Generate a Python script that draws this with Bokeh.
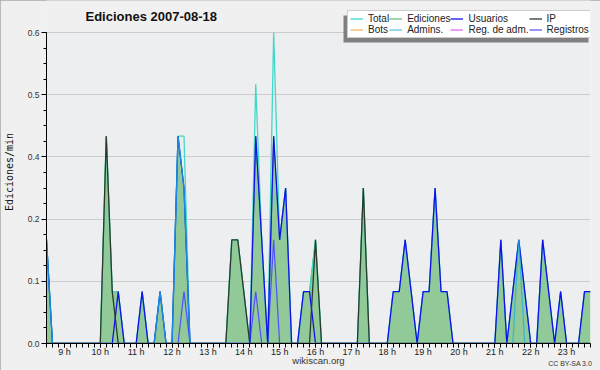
from bokeh.plotting import figure
from bokeh.models import (FixedTicker, Legend, LegendItem, Label, BoxAnnotation, LinearAxis,
                          PrintfTickFormatter, Range1d, ColumnDataSource)
from bokeh.embed import file_html
from bokeh.resources import INLINE

# ---- data: one value every 10 minutes, from 08:30 to 23:40 (edits per minute) ----
start_hour = 8.5
step_minutes = 10

ediciones = [0.2, 0, 0,
             0, 0, 0, 0, 0, 0,
             0, 0.4, 0.1, 0.1, 0, 0,
             0, 0.1, 0, 0, 0.1, 0,
             0, 0.4, 0.3, 0, 0, 0,
             0, 0, 0, 0, 0.2, 0.2,
             0.1, 0, 0.4, 0.2, 0, 0.4,
             0.2, 0.3, 0, 0, 0.1, 0.1,
             0.2, 0, 0, 0, 0, 0,
             0, 0, 0.3, 0, 0, 0,
             0, 0.1, 0.1, 0.2, 0.1, 0,
             0.1, 0.1, 0.3, 0.1, 0.1, 0,
             0, 0, 0, 0, 0, 0,
             0, 0.2, 0, 0.1, 0.2, 0.1,
             0, 0, 0.2, 0.1, 0, 0.1,
             0, 0, 0, 0.1, 0.1]

total = [0.2, 0, 0,
         0, 0, 0, 0, 0, 0,
         0, 0.4, 0.1, 0.1, 0, 0,
         0, 0.1, 0, 0, 0.1, 0,
         0, 0.4, 0.4, 0, 0, 0,
         0, 0, 0, 0, 0.2, 0.2,
         0.1, 0, 0.5, 0.2, 0, 0.6,
         0.2, 0.3, 0, 0, 0.1, 0.1,
         0.2, 0, 0, 0, 0, 0,
         0, 0, 0.3, 0, 0, 0,
         0, 0.1, 0.1, 0.2, 0.1, 0,
         0.1, 0.1, 0.3, 0.1, 0.1, 0,
         0, 0, 0, 0, 0, 0,
         0, 0.2, 0, 0.1, 0.2, 0.1,
         0, 0, 0.2, 0.1, 0, 0.1,
         0, 0, 0, 0.1, 0.1]

usuarios = [0.2, 0, 0,
            0, 0, 0, 0, 0, 0,
            0, 0, 0, 0.1, 0, 0,
            0, 0.1, 0, 0, 0.1, 0,
            0, 0.4, 0.3, 0, 0, 0,
            0, 0, 0, 0, 0, 0,
            0, 0, 0.4, 0.2, 0, 0.4,
            0.2, 0.3, 0, 0, 0.1, 0.1,
            0, 0, 0, 0, 0, 0,
            0, 0, 0, 0, 0, 0,
            0, 0.1, 0.1, 0.2, 0.1, 0,
            0.1, 0.1, 0.3, 0.1, 0.1, 0,
            0, 0, 0, 0, 0, 0,
            0, 0.2, 0, 0.1, 0.2, 0.1,
            0, 0, 0.2, 0.1, 0, 0.1,
            0, 0, 0, 0.1, 0.1]

ip = [0, 0, 0,
      0, 0, 0, 0, 0, 0,
      0, 0.4, 0.1, 0, 0, 0,
      0, 0, 0, 0, 0, 0,
      0, 0, 0, 0, 0, 0,
      0, 0, 0, 0, 0.2, 0.2,
      0.1, 0, 0, 0, 0, 0,
      0, 0, 0, 0, 0, 0,
      0.2, 0, 0, 0, 0, 0,
      0, 0, 0.3, 0, 0, 0,
      0, 0, 0, 0, 0, 0,
      0, 0, 0, 0, 0, 0,
      0, 0, 0, 0, 0, 0,
      0, 0, 0, 0, 0, 0,
      0, 0, 0, 0, 0, 0,
      0, 0, 0, 0, 0]

admins = [0.2, 0, 0,
          0, 0, 0, 0, 0, 0,
          0, 0, 0, 0, 0, 0,
          0, 0, 0, 0, 0.1, 0,
          0, 0.4, 0.3, 0, 0, 0,
          0, 0, 0, 0, 0, 0,
          0, 0, 0, 0, 0, 0,
          0, 0, 0, 0, 0, 0,
          0, 0, 0, 0, 0, 0,
          0, 0, 0, 0, 0, 0,
          0, 0, 0, 0, 0, 0,
          0, 0, 0, 0, 0, 0,
          0, 0, 0, 0, 0, 0,
          0, 0, 0, 0, 0.2, 0,
          0, 0, 0, 0, 0, 0,
          0, 0, 0, 0, 0]

registros = [0, 0, 0,
             0, 0, 0, 0, 0, 0,
             0, 0, 0, 0, 0, 0,
             0, 0, 0, 0, 0, 0,
             0, 0, 0.1, 0, 0, 0,
             0, 0, 0, 0, 0, 0,
             0, 0, 0.1, 0, 0, 0.2,
             0, 0, 0, 0, 0, 0,
             0, 0, 0, 0, 0, 0,
             0, 0, 0, 0, 0, 0,
             0, 0, 0, 0, 0, 0,
             0, 0, 0, 0, 0, 0,
             0, 0, 0, 0, 0, 0,
             0, 0, 0, 0, 0, 0,
             0, 0, 0, 0, 0, 0,
             0, 0, 0, 0, 0]

bots = [0.0] * len(total)
reg_adm = [0.0] * len(total)

hour_ticks = [9, 10, 11, 12, 13, 14, 15, 16, 17, 18, 19, 20, 21, 22, 23]
hour_labels = ["9 h", "10 h", "11 h", "12 h", "13 h", "14 h", "15 h", "16 h",
               "17 h", "18 h", "19 h", "20 h", "21 h", "22 h", "23 h"]
y_ticks = [0.0, 0.12, 0.24, 0.36, 0.48, 0.6]
y_max = 0.6

legend_names = ["Total", "Ediciones", "Usuarios", "IP",
                "Bots", "Admins.", "Reg. de adm.", "Registros"]
title_text = "Ediciones  2007-08-18"
source_text = "wikiscan.org"
license_text = "CC BY-SA 3.0"
y_label = "Ediciones/min"

# ---- layout constants (pixels) ----
W, H = 600, 370
LEFT, RIGHT, BOTTOM = 46, 10, 27
FRAME_H = H - BOTTOM            # frame reaches the top of the canvas
PLOT_H = 311                    # height of the 0..0.6 band
OUTER = "#f0f0f0"
INNER = "#edeef0"

# ---- build ----
n = len(total)
hours = [start_hour + i * step_minutes / 60.0 for i in range(n)]
src = ColumnDataSource(dict(t=hours, total=total, ediciones=ediciones, usuarios=usuarios,
                            ip=ip, bots=bots, admins=admins, reg_adm=reg_adm,
                            registros=registros))

p = figure(width=W, height=H, output_backend="svg", toolbar_location=None, title=None,
           x_range=Range1d(hours[0], hours[-1]),
           y_range=Range1d(0, y_max * FRAME_H / PLOT_H),
           min_border_left=LEFT, min_border_right=RIGHT, min_border_top=0,
           min_border_bottom=BOTTOM,
           background_fill_color=INNER, border_fill_color=OUTER,
           outline_line_color=None)
p.styles = {"outline": "1px solid #a8a8a8", "outline-offset": "-1px"}

# axes
xa = p.xaxis[0]
xa.ticker = FixedTicker(ticks=hour_ticks,
                        minor_ticks=[start_hour + k * step_minutes / 60.0 for k in range(n)])
xa.major_label_overrides = {h: lab for h, lab in zip(hour_ticks, hour_labels)}
xa.axis_label = source_text
xa.axis_label_text_font = "Liberation Sans"
xa.axis_label_text_font_size = "9.5px"
xa.axis_label_text_font_style = "normal"
xa.axis_label_text_color = "#333333"
xa.axis_label_standoff = -5
xa.major_label_text_font = "Liberation Sans"
xa.major_label_text_font_size = "9px"
xa.major_label_text_color = "#222222"
xa.major_label_standoff = -1
xa.major_tick_out = 4
xa.major_tick_in = 0
xa.minor_tick_out = 4
xa.minor_tick_in = 0
xa.axis_line_color = "black"
xa.major_tick_line_color = "black"
xa.minor_tick_line_color = "black"

# second, invisible axis carrying the licence note on the same row as the axis label
cc_pos = 23.1
xa2 = LinearAxis(ticker=FixedTicker(ticks=[cc_pos]),
                 major_label_overrides={cc_pos: license_text},
                 axis_line_color=None, major_tick_line_color=None,
                 minor_tick_line_color=None, major_tick_out=0, minor_tick_out=0,
                 major_label_standoff=-9,
                 major_label_text_font="Liberation Sans",
                 major_label_text_font_size="7px",
                 major_label_text_color="#333333")
p.add_layout(xa2, "below")

ya = p.yaxis[0]
ya.bounds = (0, y_max)
ya.ticker = FixedTicker(ticks=y_ticks, minor_ticks=[k * 0.03 for k in range(21)])
ya.formatter = PrintfTickFormatter(format="%.1f")
ya.axis_label = y_label
ya.axis_label_text_font = "DejaVu Sans Mono"
ya.axis_label_text_font_size = "10px"
ya.axis_label_text_font_style = "normal"
ya.axis_label_text_color = "#111111"
ya.axis_label_standoff = 10
ya.major_label_text_font = "Liberation Sans"
ya.major_label_text_font_size = "8.5px"
ya.major_label_text_color = "#333333"
ya.major_label_standoff = 2
ya.major_tick_out = 5
ya.major_tick_in = 0
ya.minor_tick_out = 3
ya.minor_tick_in = 0
ya.axis_line_color = "black"

p.xgrid.grid_line_color = None
p.ygrid.grid_line_color = "#cccccc"
p.ygrid.grid_line_width = 1

# area above the 0..0.6 band gets the outer colour
top_band = BoxAnnotation(bottom=PLOT_H + 0.5, bottom_units="screen",
                         fill_color=OUTER, fill_alpha=1.0, line_color=None, level="underlay")
p.add_layout(top_band)

# series
p.varea(x="t", y1=0, y2="ediciones", source=src, fill_color="#92c998", fill_alpha=1.0)
r_bots = p.line("t", "bots", source=src, line_color="#f0a030", line_width=1)
r_regadm = p.line("t", "reg_adm", source=src, line_color="#cc44dd", line_width=1)
r_ed = p.line("t", "ediciones", source=src, line_color="#44aa55", line_width=1)
r_total = p.line("t", "total", source=src, line_color="#40d8c8", line_width=1.3)
r_reg = p.line("t", "registros", source=src, line_color="#5050ff", line_width=1.2)
r_usu = p.line("t", "usuarios", source=src, line_color="#1010e8", line_width=1.3)
r_adm = p.line("t", "admins", source=src, line_color="#20b0e0", line_width=1.3, line_alpha=0.75)
r_ip = p.line("t", "ip", source=src, line_color="#2a3a2a", line_width=1.3)

# title
p.add_layout(Label(x=85 - LEFT, y=FRAME_H - 16, x_units="screen", y_units="screen",
                   text=title_text, text_font="Liberation Sans", text_font_size="13px",
                   text_font_style="bold", text_color="#111111", text_baseline="middle"))

# legend shadow + legend
shadow = BoxAnnotation(left=343 - LEFT, right=588 - LEFT, top=FRAME_H - 15, bottom=FRAME_H - 42,
                       left_units="screen", right_units="screen",
                       top_units="screen", bottom_units="screen",
                       fill_color="#808080", fill_alpha=1.0, line_color=None)
p.add_layout(shadow)

renderers = [r_total, r_ed, r_usu, r_ip, r_bots, r_adm, r_regadm, r_reg]
items = [LegendItem(label=name, renderers=[r]) for name, r in zip(legend_names, renderers)]
legend = Legend(items=items, location=(347 - LEFT, FRAME_H - 38),
                orientation="horizontal", ncols=4,
                label_text_font="Liberation Sans", label_text_font_size="10px",
                label_text_color="#222222", glyph_width=13, glyph_height=9,
                label_height=9, label_standoff=5, spacing=0, padding=2, margin=0,
                border_line_color="#999999", border_line_width=1,
                background_fill_color="white", background_fill_alpha=1.0)
p.add_layout(legend)

open("out.html", "w").write(file_html(p, INLINE))
